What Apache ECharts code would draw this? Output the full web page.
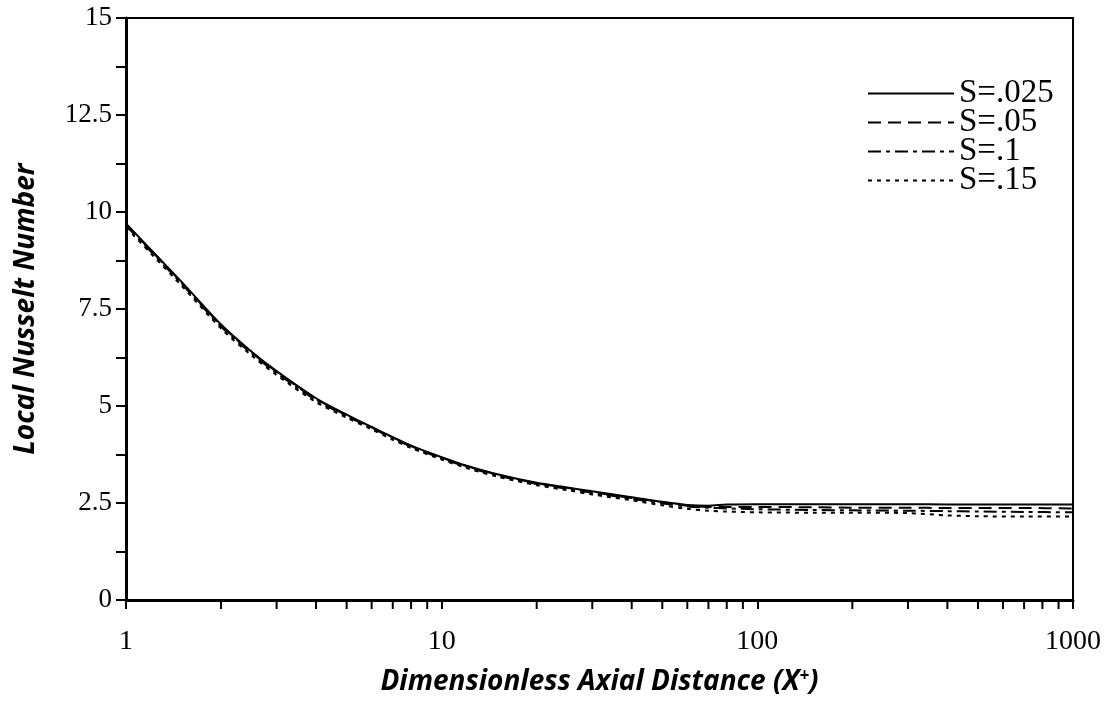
<!DOCTYPE html>
<html>
<head>
<meta charset="utf-8">
<script src="https://cdn.jsdelivr.net/npm/echarts@6/dist/echarts.min.js"></script>
<style>
  html, body { margin: 0; padding: 0; background: #fff; }
  #chart { width: 1114px; height: 702px; }
</style>
</head>
<body>
<div id="chart"></div>
<script>
var xPos = [1, 1.5, 2, 2.5, 3, 4, 5, 6, 7, 8, 10, 12, 15, 20, 25, 30, 40, 50, 60, 70, 80, 100, 150, 200, 300, 400, 500, 700, 1000];

var nuS025 = [9.7, 8.2, 7.1, 6.4, 5.9, 5.2, 4.78, 4.46, 4.2, 3.98, 3.68, 3.46, 3.24, 3.02, 2.9, 2.8, 2.65, 2.53, 2.45, 2.43, 2.46, 2.47, 2.47, 2.47, 2.47, 2.46, 2.46, 2.46, 2.46];
var nuS05  = [9.68, 8.18, 7.08, 6.38, 5.88, 5.18, 4.76, 4.45, 4.19, 3.97, 3.67, 3.45, 3.23, 3.01, 2.89, 2.78, 2.63, 2.52, 2.43, 2.4, 2.4, 2.4, 2.39, 2.38, 2.38, 2.37, 2.37, 2.37, 2.36];
var nuS1   = [9.65, 8.15, 7.05, 6.35, 5.85, 5.15, 4.74, 4.43, 4.17, 3.95, 3.65, 3.43, 3.21, 2.99, 2.87, 2.76, 2.61, 2.49, 2.41, 2.38, 2.36, 2.34, 2.32, 2.31, 2.3, 2.29, 2.28, 2.27, 2.26];
var nuS15  = [9.6, 8.1, 7.0, 6.3, 5.8, 5.1, 4.7, 4.4, 4.13, 3.92, 3.62, 3.4, 3.18, 2.96, 2.83, 2.72, 2.57, 2.44, 2.35, 2.3, 2.28, 2.26, 2.25, 2.25, 2.24, 2.18, 2.16, 2.15, 2.15];

var seriesNames = ['S=.025', 'S=.05', 'S=.1', 'S=.15'];
var xMinorTicks = [2, 3, 4, 5, 6, 7, 8, 9, 20, 30, 40, 50, 60, 70, 80, 90, 200, 300, 400, 500, 600, 700, 800, 900];

function pairs(ys) {
  return xPos.map(function(x, i) { return [x, ys[i]]; });
}

var chart = echarts.init(document.getElementById('chart'), null, { renderer: 'canvas' });

var serif = "'Liberation Serif', 'Times New Roman', serif";
var sans = "'Open Sans', 'Liberation Sans', sans-serif";

function lineSeries(name, data, dash) {
  return {
    name: name,
    type: 'line',
    data: pairs(data),
    showSymbol: false,
    symbol: 'none',
    smooth: 0.3,
    color: '#000',
    itemStyle: { color: '#000' },
    lineStyle: { color: '#000', width: 2, type: dash }
  };
}

chart.setOption({
  animation: false,
  backgroundColor: '#fff',
  grid: {
    left: 126, right: 41, top: 18, bottom: 102,
    show: true, borderColor: '#000', borderWidth: 2, backgroundColor: 'transparent'
  },
  legend: {
    orient: 'vertical',
    left: 862,
    top: 72,
    itemWidth: 86,
    itemHeight: 14,
    itemGap: -4,
    data: seriesNames,
    itemStyle: { opacity: 0 },
    textStyle: { fontFamily: serif, fontSize: 33, lineHeight: 27, color: '#000' }
  },
  xAxis: {
    type: 'log',
    logBase: 10,
    min: 1,
    max: 1000,
    name: '{n|Dimensionless Axial Distance (X}{s|+}{n|)}',
    nameLocation: 'middle',
    nameGap: 68,
    nameTextStyle: {
      rich: {
        n: { fontFamily: sans, fontSize: 28, fontWeight: 'bold', fontStyle: 'italic', color: '#000' },
        s: { fontFamily: sans, fontSize: 17, fontWeight: 'bold', fontStyle: 'italic', color: '#000', verticalAlign: 'top', padding: [0, 0, 12, 0] }
      }
    },
    axisLine: { lineStyle: { color: '#000', width: 3 } },
    axisTick: { show: true, inside: false, length: 9, lineStyle: { color: '#000', width: 2 } },
    axisLabel: {
      color: '#000', fontFamily: serif, fontSize: 28, margin: 28,
      formatter: function(v) { return String(Math.round(v)); }
    },
    splitLine: { show: false }
  },
  yAxis: {
    type: 'value',
    min: 0,
    max: 15,
    interval: 2.5,
    name: 'Local Nusselt Number',
    nameLocation: 'middle',
    nameGap: 86,
    nameTextStyle: { fontFamily: sans, fontSize: 28, fontWeight: 'bold', fontStyle: 'italic', color: '#000' },
    axisLine: { show: true, lineStyle: { color: '#000', width: 3 } },
    axisTick: { show: true, inside: false, length: 10, lineStyle: { color: '#000', width: 2 } },
    minorTick: { show: true, splitNumber: 2, length: 10, lineStyle: { color: '#000', width: 2 } },
    axisLabel: { color: '#000', fontFamily: serif, fontSize: 27, margin: 14 },
    splitLine: { show: false }
  },
  series: [
    lineSeries(seriesNames[0], nuS025, 'solid'),
    lineSeries(seriesNames[1], nuS05, [13, 7]),
    lineSeries(seriesNames[2], nuS1, [13, 5, 4, 5]),
    lineSeries(seriesNames[3], nuS15, [4, 5])
  ]
});

// log minor ticks on the x axis
var y0 = chart.convertToPixel({ yAxisIndex: 0 }, 0);
var tickEls = xMinorTicks.map(function(v) {
  var px = chart.convertToPixel({ xAxisIndex: 0 }, v);
  return {
    type: 'line',
    silent: true,
    shape: { x1: px, y1: y0 + 1, x2: px, y2: y0 + 9 },
    style: { stroke: '#000', lineWidth: 2 }
  };
});
chart.setOption({ graphic: tickEls });

window.addEventListener('resize', function() { chart.resize(); });
</script>
</body>
</html>
